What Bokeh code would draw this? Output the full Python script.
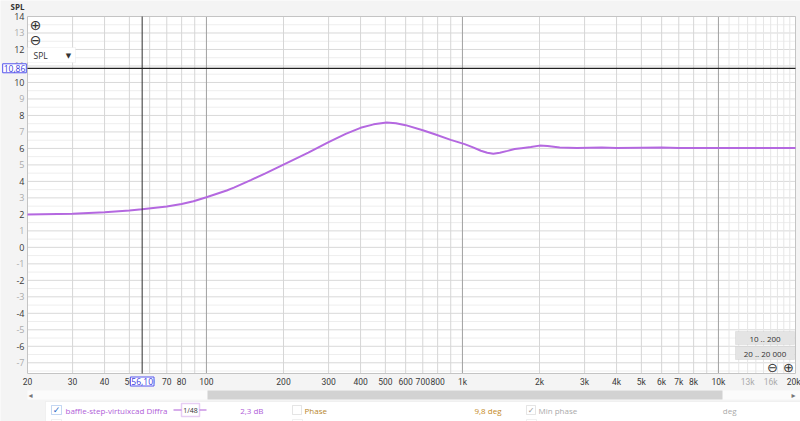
from bokeh.plotting import figure
from bokeh.models import FixedTicker, Label, BoxAnnotation, Range1d, LinearAxis, LogAxis
from bokeh.embed import file_html
from bokeh.resources import INLINE

# ---------------- data ----------------
freq_hz = [20, 30, 40, 50, 56, 70, 80, 89, 100, 120, 128, 149, 170, 200, 250, 300, 350, 400,
           450, 506, 550, 600, 700, 780, 900, 1020, 1100, 1180, 1250, 1320, 1400, 1500, 1600,
           1700, 1850, 2000, 2150, 2400, 2800, 3500, 4000, 5000, 6000, 7000, 10000, 20000]
spl_db = [2.00, 2.04, 2.13, 2.24, 2.31, 2.48, 2.63, 2.80, 3.04, 3.45, 3.62, 4.08, 4.49, 5.02,
          5.74, 6.38, 6.88, 7.25, 7.46, 7.57, 7.53, 7.41, 7.10, 6.86, 6.52, 6.26, 6.06, 5.86,
          5.74, 5.68, 5.74, 5.85, 5.96, 6.01, 6.08, 6.17, 6.14, 6.06, 6.02, 6.05, 6.03, 6.04,
          6.05, 6.03, 6.03, 6.03]

x_ticks_dark = [20, 30, 40, 50, 60, 70, 80, 100, 200, 300, 400, 500, 600, 700, 800,
                1000, 2000, 3000, 4000, 5000, 6000, 7000, 8000, 10000, 20000]
x_ticks_grey = [13000, 16000]
y_ticks_dark = [-6, -4, -2, 0, 2, 4, 6, 8, 10, 12, 14]
y_ticks_grey = [-7, -5, -3, -1, 1, 3, 5, 7, 9, 11, 13]

cursor_freq = 56.1
cursor_db = 10.86
cursor_freq_text = "56,10"
cursor_db_text = "10,86"
series_name = "baffle-step-virtuixcad Diffra"
series_value = "2,3 dB"
phase_value = "9,8 deg"
y_title = "SPL"

X_MIN, X_MAX = 20, 20000
Y_MIN, Y_MAX = -7.65, 14.0

W, H = 800, 421
AREA_L, AREA_W = 27, 768     # plot area in page pixels
AREA_T, AREA_H = 16, 357


def fmt_hz(f):
    if f >= 1000:
        return "%dk" % (f // 1000)
    return str(f)


# page pixel -> data coordinates (used for placing UI decorations)
def X(px):
    return X_MIN * 10 ** (3 * (px - AREA_L) / AREA_W)


def Y(py):
    return Y_MAX - (py - AREA_T) * (Y_MAX - Y_MIN) / AREA_H


FONT = "Open Sans"
TICKFONT = "Roboto"
SYM = "DejaVu Sans"
DARK = "#3a3a3a"
GREY = "#ababab"
BLUE = "#3b3bdd"

p = figure(width=W, height=H, x_axis_type="log",
           x_range=Range1d(X(0), X(W)), y_range=Range1d(Y(H), Y(0)),
           output_backend="svg", toolbar_location=None,
           min_border_left=0, min_border_right=0, min_border_top=0, min_border_bottom=0)
p.background_fill_color = "#f4f4f4"
p.border_fill_color = "#f4f4f4"
p.outline_line_color = None
p.grid.visible = False

# plot area
p.quad(left=[X_MIN], right=[X_MAX], bottom=[Y_MIN], top=[Y_MAX],
       fill_color="white", line_color=None)

# grid lines
y_half = [v + 0.5 for v in range(-8, 14)]
y_int = list(range(-7, 15))
x_minor = [m * 10 ** d for d in (1, 2, 3) for m in range(2, 10)
           if X_MIN < m * 10 ** d < X_MAX]
x_fine = [k * 1000 for k in range(11, 20)]
x_decade = [100, 1000, 10000]
for ys, col in ((y_half, "#eeeeee"), (y_int, "#d9d9d9")):
    p.segment(x0=[X_MIN] * len(ys), x1=[X_MAX] * len(ys), y0=ys, y1=ys, line_color=col, line_width=1)
for xs, col in ((x_fine, "#e6e6e6"), (x_minor, "#d6d6d6"), (x_decade, "#a0a0a0")):
    p.segment(x0=xs, x1=xs, y0=[Y_MIN] * len(xs), y1=[Y_MAX] * len(xs), line_color=col, line_width=1)

# frame border
p.quad(left=[X_MIN], right=[X_MAX], bottom=[Y_MIN], top=[Y_MAX],
       fill_color=None, line_color="#c4c4c4")

# curve
p.line(freq_hz, spl_db, line_color="#b468e0", line_width=2)

# cursors
p.segment(x0=[cursor_freq], x1=[cursor_freq], y0=[Y_MIN], y1=[Y_MAX], line_color="#303030", line_width=1)
p.segment(x0=[X_MIN], x1=[X_MAX], y0=[cursor_db], y1=[cursor_db], line_color="#202020", line_width=1.2)


def style_axis(ax, color, size="9px", standoff=3, font=FONT):
    ax.axis_line_color = None
    ax.major_tick_line_color = None
    ax.minor_tick_line_color = None
    ax.major_tick_out = 0
    ax.major_tick_in = 0
    ax.minor_tick_out = 0
    ax.minor_tick_in = 0
    ax.major_label_text_font = font
    ax.major_label_text_font_size = size
    ax.major_label_text_color = color
    ax.major_label_standoff = standoff


# axes pinned to the plot area edges
xa = p.xaxis[0]
xa.ticker = FixedTicker(ticks=x_ticks_dark)
xa.major_label_overrides = {t: fmt_hz(t) for t in x_ticks_dark}
xa.fixed_location = Y_MIN
style_axis(xa, DARK, size="8.5px", standoff=3, font=TICKFONT)
ya = p.yaxis[0]
ya.ticker = FixedTicker(ticks=y_ticks_dark)
ya.major_label_overrides = {t: str(t) for t in y_ticks_dark}
ya.fixed_location = X_MIN
style_axis(ya, DARK)

ax_yg = LinearAxis(ticker=FixedTicker(ticks=y_ticks_grey), fixed_location=X_MIN,
                   major_label_overrides={t: str(t) for t in y_ticks_grey})
style_axis(ax_yg, GREY)
p.add_layout(ax_yg, "left")
ax_xg = LogAxis(ticker=FixedTicker(ticks=x_ticks_grey), fixed_location=Y_MIN,
                major_label_overrides={t: fmt_hz(t) for t in x_ticks_grey})
style_axis(ax_xg, GREY, size="8.5px", standoff=3, font=TICKFONT)
p.add_layout(ax_xg, "below")


def lbl(x, y, text, align="left", color="#333333", size="8px", font=FONT, **kw):
    p.add_layout(Label(x=x, y=y, text=text, text_align=align, text_baseline="middle",
                       text_color=color, text_font=font, text_font_size=size, **kw))


def box(l, r, t, b, fill, line, lw=1):
    p.add_layout(BoxAnnotation(left=X(l), right=X(r), top=Y(t), bottom=Y(b),
                               fill_color=fill, fill_alpha=1, line_color=line, line_width=lw))


# cursor read-outs
lbl(X(14), cursor_db, cursor_db_text, align="center", color=BLUE, size="8.5px",
    background_fill_color="white", border_line_color="#5555ee", padding=1)
lbl(cursor_freq, Y(381), cursor_freq_text, align="center", color=BLUE, size="8.5px",
    background_fill_color="white", border_line_color="#5555ee", padding=1)

# title
lbl(X(17), Y(6), y_title, align="center", text_font_style="bold")

# zoom icons
for py, ch in ((24, "\u2295"), (39, "\u2296")):
    lbl(X(35), Y(py), ch, align="center", size="14px", font=SYM)

# SPL dropdown
box(27, 75, 47, 62, "white", "#dddddd")
lbl(X(33), Y(55), "SPL", size="8.5px")
lbl(X(68), Y(55), "\u25bc", align="center", size="7px", font=SYM)

# range buttons
for top, bot, txt in ((331, 344, "10 .. 200"), (346, 359, "20 .. 20 000")):
    box(735, 794, top, bot, "#e4e4e4", "#c4c4c4")
    lbl(X(764.5), Y((top + bot) / 2), txt, align="center")
for px, ch in ((772, "\u2296"), (788, "\u2295")):
    lbl(X(px), Y(367), ch, align="center", size="13px", font=SYM)

# scrollbar
box(27, 800, 390, 399, "#fbfbfb", None)
box(207, 722, 390, 399, "#d2d2d2", None)
lbl(X(30), Y(394.5), "\u25c2", align="center", color="#777777", size="8px", font=SYM)
lbl(X(793), Y(394.5), "\u25b8", align="center", color="#777777", size="8px", font=SYM)

# legend row
box(45, 801, 401, 425, "white", "#dcdcdc")
row_y = Y(409.5)
box(51, 61, 405, 414, "white", "#3a7bd5")
lbl(X(56), row_y, "\u2713", align="center", color="#2a6bc5", size="9px", font=SYM)
lbl(X(65), row_y, series_name, color="#b05ed8")
box(173, 206, 409, 410, "#b05ed8", None)
box(181, 199, 403, 416, "white", "#b05ed8", 1.5)
lbl(X(190), row_y, "1/48", align="center", size="7px")
lbl(X(263), row_y, series_value, align="right", color="#b05ed8")
box(292, 301, 405, 414, "white", "#aaaaaa")
lbl(X(304), row_y, "Phase", color="#b8862a")
lbl(X(501), row_y, phase_value, align="right", color="#c58a1e")
box(526, 535, 405, 414, "white", "#aaaaaa")
lbl(X(530.5), row_y, "\u2713", align="center", color="#999999", font=SYM)
lbl(X(538), row_y, "Min phase", color="#aaaaaa")
lbl(X(736), row_y, "deg", align="right", color="#aaaaaa")
for cx in (56, 297, 531):
    box(cx - 5, cx + 5, 419, 428, "white", "#cccccc")

open("out.html", "w").write(file_html(p, INLINE))
